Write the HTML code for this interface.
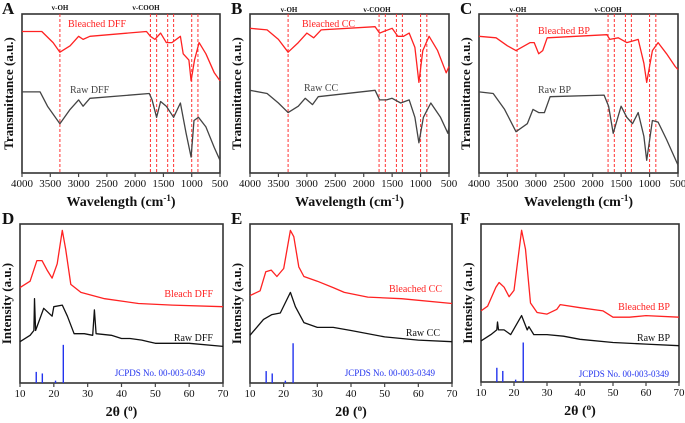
<!DOCTYPE html>
<html><head><meta charset="utf-8"><style>
html,body{margin:0;padding:0;background:#fff;}
svg{display:block;font-family:"Liberation Serif",serif;}
.frame{fill:none;stroke:#333;stroke-width:1.6;}
</style></head><body>
<svg id="fig" width="685" height="423" viewBox="0 0 685 423" xmlns="http://www.w3.org/2000/svg">
<rect class="frame" x="22" y="14" width="198" height="159"/>
<rect class="frame" x="250" y="14" width="199" height="159"/>
<rect class="frame" x="479" y="14" width="199" height="159"/>
<rect class="frame" x="20" y="224" width="203" height="159"/>
<rect class="frame" x="250" y="224" width="202" height="159"/>
<rect class="frame" x="481" y="224" width="198" height="158"/>
</svg>
<script>
// FTIR data: [wavenumber, transmittance a.u. 0-100]
const ftirBleachedDFF=[[4000,89],[3650,89],[3450,82],[3330,76],[3150,80],[3000,86],[2920,84],[2800,86],[1800,89],[1730,86],[1650,84],[1550,88],[1450,82],[1350,82],[1200,86],[1150,75],[1050,71],[1010,58],[950,71],[870,82],[750,75],[600,63],[500,58]];
const ftirRawDFF=[[4000,51],[3680,51],[3550,42],[3330,31],[3150,40],[3000,46],[2920,42],[2800,47],[1750,50],[1700,46],[1620,35],[1550,45],[1450,42],[1320,35],[1200,44],[1100,25],[1010,10],[960,33],[880,35],[750,29],[600,16],[500,8]];
const ftirBleachedCC=[[4000,91],[3700,90],[3500,84],[3330,76],[3150,82],[3000,88],[2880,85],[2750,90],[1800,92],[1720,88],[1650,89],[1500,91],[1400,86],[1300,86],[1200,88],[1100,79],[1030,57],[960,77],[850,86],[700,77],[550,63],[500,67]];
const ftirRawCC=[[4000,52],[3700,50],[3500,44],[3330,38],[3150,42],[3030,47],[2900,43],[2800,48],[1800,52],[1720,46],[1600,46],[1500,47],[1350,44],[1200,46],[1100,35],[1030,19],[950,35],[820,44],[650,35],[520,25],[500,29]];
const ftirBleachedBP=[[4000,86],[3700,85],[3500,80],[3350,77],[3100,82],[3030,82],[2950,75],[2880,77],[2800,85],[1750,87],[1700,84],[1550,85],[1400,82],[1200,84],[1100,69],[1050,57],[950,77],[850,82],[700,75],[550,67],[500,65]];
const ftirRawBP=[[4000,51],[3750,50],[3550,40],[3350,26],[3150,31],[3050,40],[2950,38],[2850,38],[2750,48],[1800,49],[1720,42],[1640,25],[1500,42],[1400,35],[1300,31],[1200,38],[1100,23],[1050,8],[950,33],[850,32],[700,21],[500,5]];
const ftirMarkers=[3330,1730,1620,1425,1320,1000,890];
const ftirTicks=[4000,3500,3000,2500,2000,1500,1000,500];
// XRD data: [2theta, intensity a.u. 0-100]
const xrdBleachDFF=[[10,60],[13,64],[15,77],[16.5,77],[18,71],[19.5,66],[21,75],[22.5,96],[23.5,84],[25,62],[28,57],[35,53],[45,50],[55,49],[70,48]];
const xrdRawDFF=[[10,26],[13,30],[14.1,33],[14.3,53],[14.6,33],[17,47],[19.5,42],[20,48],[22.5,49],[24,42],[26,31],[29,31],[31.5,30],[32,46],[32.5,31],[37,30],[40,28],[42.5,28],[46,27],[48,26],[50,25],[60,25],[70,23]];
const xrdBleachedCC=[[10,55],[13,58],[14.7,70],[16.3,71],[18,67],[20,72],[22,96],[23,92],[24.5,73],[26,67],[30,64],[34.7,60],[38,57],[45,54],[55,53],[70,50]];
const xrdRawCC=[[10,30],[14,40],[16.5,43],[19,44],[22,57],[23.5,48],[26,38],[30,35],[34.7,35],[40,33],[50,29],[60,27],[70,26]];
const xrdBleachedBP=[[10,45],[12,48],[14.5,60],[15.5,63],[17,60],[18.5,54],[20,58],[22.3,96],[23.5,84],[25,50],[27,44],[30,43],[33,46],[34,49],[40,47],[47,45],[50,41],[55,41],[60,42],[70,41]];
const xrdRawBP=[[10,26],[13,30],[14.8,33],[15,38],[15.3,33],[17,33],[19,30],[22.3,42],[24,33],[24.5,35],[26,30],[30,30],[35,29],[40,27],[50,25],[60,24],[70,23]];
const jcpdsPos=[14.8,16.6,20.5,22.8];
const jcpdsDFF=[7,6,1.5,24];
const jcpdsCC=[7.5,6,1.5,25];
const jcpdsBP=[9,7,1.5,25];
const xrdTicks=[10,20,30,40,50,60,70];

const svg=document.getElementById('fig');
const NS='http://www.w3.org/2000/svg';
function mk(tag,attrs,parent,text){const e=document.createElementNS(NS,tag);for(const k in attrs)e.setAttribute(k,attrs[k]);if(text!==undefined)e.textContent=text;(parent||svg).appendChild(e);return e;}

function panel(cfg){
  const g=mk('g',{});
  
  
  const {x0,x1,y0,y1,dmin,dmax}=cfg;
  const sx=v=>x0+(v-dmin)/(dmax-dmin)*(x1-x0);
  const sy=v=>y1-v/100*(y1-y0);
  cfg.ticks.forEach(t=>{
    const tk=mk('rect',{x:sx(t)-0.6,y:y1,width:1.2,height:4,fill:'#444'},g);
    
    
    const tl=mk('text',{x:sx(t),y:y1+14,'font-size':11,'text-anchor':'middle',fill:'#111'},g,String(t));
    
    
  });
  if(cfg.markers){cfg.markers.forEach(m=>{
    const ln=mk('line',{x1:sx(m),x2:sx(m),y1:y0,y2:y1,stroke:'#f33','stroke-width':1,'stroke-dasharray':'3,2'},g);
    
    
  });}
  if(cfg.sticks){cfg.sticks.forEach((h,i)=>{
    const st=mk('line',{x1:sx(cfg.stickPos[i]),x2:sx(cfg.stickPos[i]),y1:y1,y2:sy(h),stroke:'#2233ee','stroke-width':1.4},g);
    
    
  });}
  cfg.series.forEach(s=>{
    const p=mk('polyline',{points:s.data.map(d=>sx(d[0]).toFixed(1)+','+sy(d[1]).toFixed(1)).join(' '),fill:'none',stroke:s.color,'stroke-width':1.3,'stroke-linejoin':'round'},g);
    
    
  });
  cfg.labels.forEach(l=>{
    const t=mk('text',{x:l[0],y:l[1],'font-size':l[4]||10,fill:l[3],'font-weight':l[5]||'normal','text-anchor':l[6]||'start'},g,l[2]);
    
    
  });
  const let_=mk('text',{x:cfg.letter[1],y:cfg.letter[2],'font-size':17,'font-weight':'bold',fill:'#111'},g,cfg.letter[0]);
  
  
  const xt=mk('text',{x:(x0+x1)/2,y:y1+33,'font-size':14,'font-weight':'bold','text-anchor':'middle',fill:'#111'},g);
  
  
  xt.innerHTML=cfg.xtitle;
  const yt=mk('text',{x:0,y:0,'font-size':13,'font-weight':'bold','text-anchor':'middle',fill:'#111',transform:`translate(${x0-9},${(y0+y1)/2}) rotate(-90)`},g,cfg.ytitle);
  
  
}
const R='#f22',K='#444',KK='#111',B='#2233ee';
const ftirTitle='Wavelength (cm<tspan font-size="9" dy="-5">-1</tspan><tspan dy="5">)</tspan>';
const xrdTitle='2θ (<tspan font-size="9" dy="-5">o</tspan><tspan dy="5">)</tspan>';
panel({name:'panel-a-ftir-dff',x0:22,x1:220,y0:14,y1:173,dmin:4000,dmax:500,ticks:ftirTicks,markers:ftirMarkers,
 series:[{name:'bleached-dff-line',data:ftirBleachedDFF,color:R},{name:'raw-dff-line',data:ftirRawDFF,color:K}],
 labels:[[68,27,'Bleached DFF',R],[70,93,'Raw DFF',K],[60,10,'v-OH',KK,7,'bold','middle'],[146,10,'v-COOH',KK,7,'bold','middle']],
 letter:['A',2,14],xtitle:ftirTitle,ytitle:'Transmittance (a.u.)'});
panel({name:'panel-b-ftir-cc',x0:250,x1:449,y0:14,y1:173,dmin:4000,dmax:500,ticks:ftirTicks,markers:ftirMarkers,
 series:[{name:'bleached-cc-line',data:ftirBleachedCC,color:R},{name:'raw-cc-line',data:ftirRawCC,color:K}],
 labels:[[302,27,'Bleached CC',R],[304,91,'Raw CC',K],[289,12,'v-OH',KK,7,'bold','middle'],[377,12,'v-COOH',KK,7,'bold','middle']],
 letter:['B',231,14],xtitle:ftirTitle,ytitle:'Transmittance (a.u.)'});
panel({name:'panel-c-ftir-bp',x0:479,x1:678,y0:14,y1:173,dmin:4000,dmax:500,ticks:ftirTicks,markers:ftirMarkers,
 series:[{name:'bleached-bp-line',data:ftirBleachedBP,color:R},{name:'raw-bp-line',data:ftirRawBP,color:K}],
 labels:[[538,34,'Bleached BP',R],[538,93,'Raw BP',K],[518,12,'v-OH',KK,7,'bold','middle'],[608,12,'v-COOH',KK,7,'bold','middle']],
 letter:['C',460,14],xtitle:ftirTitle,ytitle:'Transmittance (a.u.)'});
panel({name:'panel-d-xrd-dff',x0:20,x1:223,y0:224,y1:383,dmin:10,dmax:70,ticks:xrdTicks,sticks:jcpdsDFF,stickPos:jcpdsPos,
 series:[{name:'bleach-dff-xrd',data:xrdBleachDFF,color:R},{name:'raw-dff-xrd',data:xrdRawDFF,color:KK}],
 labels:[[213,297,'Bleach DFF',R,10,'normal','end'],[213,341,'Raw DFF',KK,10,'normal','end'],[205,376,'JCPDS No. 00-003-0349',B,9,'normal','end']],
 letter:['D',2,224],xtitle:xrdTitle,ytitle:'Intensity (a.u.)'});
panel({name:'panel-e-xrd-cc',x0:250,x1:452,y0:224,y1:383,dmin:10,dmax:70,ticks:xrdTicks,sticks:jcpdsCC,stickPos:jcpdsPos,
 series:[{name:'bleached-cc-xrd',data:xrdBleachedCC,color:R},{name:'raw-cc-xrd',data:xrdRawCC,color:KK}],
 labels:[[442,292,'Bleached CC',R,10,'normal','end'],[440,336,'Raw CC',KK,10,'normal','end'],[435,376,'JCPDS No. 00-003-0349',B,9,'normal','end']],
 letter:['E',231,224],xtitle:xrdTitle,ytitle:'Intensity (a.u.)'});
panel({name:'panel-f-xrd-bp',x0:481,x1:679,y0:224,y1:382,dmin:10,dmax:70,ticks:xrdTicks,sticks:jcpdsBP,stickPos:jcpdsPos,
 series:[{name:'bleached-bp-xrd',data:xrdBleachedBP,color:R},{name:'raw-bp-xrd',data:xrdRawBP,color:KK}],
 labels:[[670,310,'Bleached BP',R,10,'normal','end'],[670,341,'Raw BP',KK,10,'normal','end'],[669,377,'JCPDS No. 00-003-0349',B,9,'normal','end']],
 letter:['F',460,224],xtitle:xrdTitle,ytitle:'Intensity (a.u.)'});
</script>
</body></html>
